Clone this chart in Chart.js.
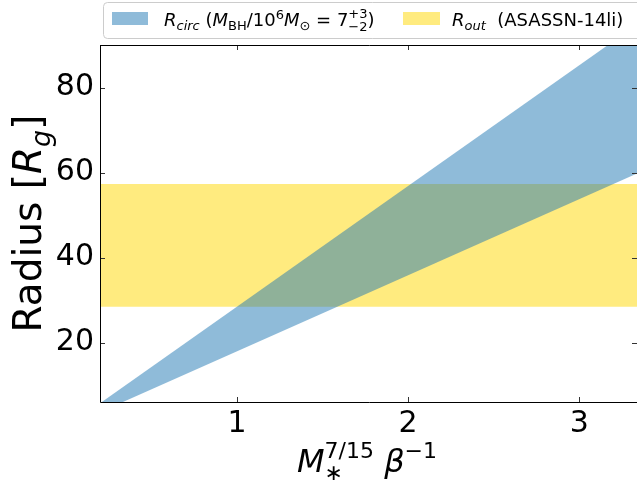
<!DOCTYPE html>
<html>
<head>
<meta charset="utf-8">
<script src="https://cdn.jsdelivr.net/npm/chart.js@4.4.0/dist/chart.umd.min.js"></script>
<style>
  html, body { margin: 0; padding: 0; background: #fff; }
  #wrap { width: 637px; height: 485px; }
</style>
</head>
<body>
<div id="wrap"><canvas id="chart" width="637" height="485"></canvas></div>
<script>
// x ends of the bands (plot is cut off at the right edge)
const xEnds = [0.2, 3.34];
// R_circ edges: M_BH = 5e6 (upper) and 1e7 (lower), in R_g
const rCircHigh = [5.7, 94.9];
const rCircLow = [3.6, 59.8];
// R_out range of ASASSN-14li
const rOutTop = [57.3, 57.3];
const rOutBottom = [28.4, 28.4];
const xTicks = [1, 2, 3];
const yTicks = [20, 40, 60, 80];

const FONT = "'DejaVu Sans', sans-serif";
const BLUE = 'rgba(31,119,180,0.5)';
const GOLD = 'rgba(255,215,0,0.5)';
const NONE = 'rgba(0,0,0,0)';

const pts = ys => xEnds.map((x, i) => ({ x: x, y: ys[i] }));

// draw a run of text pieces (italic, sub/superscripts) left to right
function runFont(p, size) {
  return (p.it ? 'italic ' : '') + Math.round(size * (p.s || 1)) + 'px ' + FONT;
}
function runWidth(ctx, runs, size) {
  let w = 0;
  runs.forEach(r => {
    const parts = r.stack || [r];
    let m = 0;
    parts.forEach(p => { ctx.font = runFont(p, size); m = Math.max(m, ctx.measureText(p.t).width); });
    w += m;
  });
  return w;
}
function drawRuns(ctx, runs, size, x, y) {
  ctx.textBaseline = 'alphabetic';
  ctx.textAlign = 'left';
  ctx.fillStyle = '#000';
  runs.forEach(r => {
    const parts = r.stack || [r];
    let m = 0;
    parts.forEach(p => {
      ctx.font = runFont(p, size);
      ctx.fillText(p.t, x, y + (p.dy || 0) * size);
      m = Math.max(m, ctx.measureText(p.t).width);
    });
    x += m;
  });
}

const legendCirc = [
  { t: 'R', it: true }, { t: 'circ', it: true, s: 0.7, dy: 0.22 },
  { t: ' (' }, { t: 'M', it: true }, { t: 'BH', s: 0.7, dy: 0.22 },
  { t: '/10' }, { t: '6', s: 0.7, dy: -0.4 }, { t: 'M', it: true }, { t: '\u2299', s: 0.7, dy: 0.22 },
  { t: ' = 7' }, { stack: [{ t: '+3', s: 0.7, dy: -0.42 }, { t: '\u22122', s: 0.7, dy: 0.3 }] },
  { t: ')' }
];
const legendOut = [
  { t: 'R', it: true }, { t: 'out', it: true, s: 0.7, dy: 0.22 }, { t: '  (ASASSN-14li)' }
];
const xTitle = [
  { t: 'M', it: true },
  { stack: [{ t: '7/15', s: 0.7, dy: -0.44 }, { t: '\u2217', s: 0.7, dy: 0.26 }] },
  { t: ' ' }, { t: '\u03b2', it: true }, { t: '\u22121', s: 0.7, dy: -0.44 }
];
const yTitle = [
  { t: 'Radius [' }, { t: 'R', it: true }, { t: 'g', it: true, s: 0.7, dy: 0.22 }, { t: ']' }
];

const decor = {
  id: 'decor',
  afterDatasetsDraw(chart) {
    const ctx = chart.ctx, a = chart.chartArea;
    const xs = chart.scales.x, ys = chart.scales.y;
    ctx.save();
    // inward ticks on all four sides
    ctx.strokeStyle = '#333';
    ctx.lineWidth = 1;
    ctx.beginPath();
    xTicks.forEach(v => {
      const px = Math.round(xs.getPixelForValue(v)) + 0.5;
      ctx.moveTo(px, a.bottom); ctx.lineTo(px, a.bottom - 5);
      ctx.moveTo(px, a.top); ctx.lineTo(px, a.top + 5);
    });
    yTicks.forEach(v => {
      const py = Math.round(ys.getPixelForValue(v)) + 0.5;
      ctx.moveTo(a.left, py); ctx.lineTo(a.left + 5, py);
      ctx.moveTo(a.right, py); ctx.lineTo(a.right - 5, py);
    });
    ctx.stroke();
    // spines
    ctx.strokeStyle = '#000';
    ctx.beginPath();
    ctx.moveTo(a.left + 0.5, a.top + 0.5); ctx.lineTo(a.right + 1, a.top + 0.5);
    ctx.moveTo(a.left + 0.5, a.top); ctx.lineTo(a.left + 0.5, a.bottom + 0.5);
    ctx.lineTo(a.right + 1, a.bottom + 0.5);
    ctx.stroke();
    ctx.restore();
  },
  afterDraw(chart) {
    const ctx = chart.ctx, a = chart.chartArea;
    ctx.save();
    // legend frame
    ctx.fillStyle = 'rgba(255,255,255,0.8)';
    ctx.strokeStyle = '#cccccc';
    ctx.lineWidth = 1;
    ctx.beginPath();
    ctx.roundRect(103.5, 2.5, 560, 36, 4);
    ctx.fill(); ctx.stroke();
    ctx.fillStyle = BLUE;
    ctx.fillRect(112, 12, 36, 13);
    ctx.fillStyle = GOLD;
    ctx.fillRect(403, 12, 37, 13);
    drawRuns(ctx, legendCirc, 18, 164, 26);
    drawRuns(ctx, legendOut, 18, 452, 26);
    // x title
    const xw = runWidth(ctx, xTitle, 32);
    drawRuns(ctx, xTitle, 32, 367 - xw / 2, 472);
    // y title
    const yw = runWidth(ctx, yTitle, 39);
    ctx.translate(41, (a.top + a.bottom) / 2);
    ctx.rotate(-Math.PI / 2);
    drawRuns(ctx, yTitle, 39, -yw / 2, 0);
    ctx.restore();
  }
};

const lineSet = (ys, fill, color) => ({
  data: pts(ys),
  fill: fill,
  backgroundColor: color,
  borderColor: NONE,
  borderWidth: 1,
  pointRadius: 0,
  tension: 0
});

new Chart(document.getElementById('chart').getContext('2d'), {
  type: 'line',
  data: {
    datasets: [
      lineSet(rCircHigh, '+1', BLUE),
      lineSet(rCircLow, false, NONE),
      lineSet(rOutTop, '+1', GOLD),
      lineSet(rOutBottom, false, NONE)
    ]
  },
  options: {
    responsive: false,
    animation: false,
    events: [],
    layout: { padding: { top: 45, right: 0, left: 0, bottom: 0 } },
    plugins: { legend: { display: false }, tooltip: { enabled: false } },
    scales: {
      x: {
        type: 'linear', min: 0.2, max: 3.337,
        afterBuildTicks: s => { s.ticks = xTicks.map(v => ({ value: v })); },
        afterFit: s => { s.height = 83; },
        grid: { display: false, drawTicks: false },
        border: { display: false },
        ticks: { font: { family: FONT, size: 30 }, color: '#000', padding: 4, maxRotation: 0 }
      },
      y: {
        type: 'linear', min: 6, max: 90,
        afterBuildTicks: s => { s.ticks = yTicks.map(v => ({ value: v })); },
        afterFit: s => { s.width = 100; },
        grid: { display: false, drawTicks: false },
        border: { display: false },
        ticks: { font: { family: FONT, size: 30 }, color: '#000', padding: 6 }
      }
    }
  },
  plugins: [decor]
});
</script>
</body>
</html>
